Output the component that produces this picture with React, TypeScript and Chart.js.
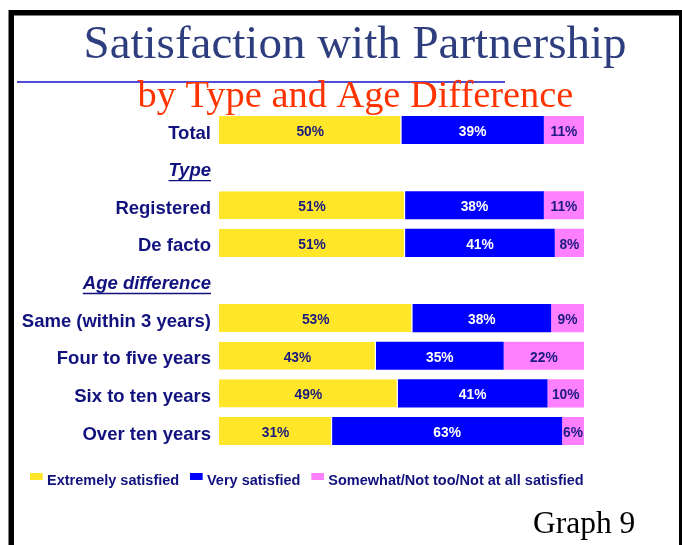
import React, { useEffect, useRef } from "react";
import { Chart, registerables } from "chart.js";

Chart.register(...registerables);

const categories = [
  "Total",
  "Type",
  "Registered",
  "De facto",
  "Age difference",
  "Same (within 3 years)",
  "Four to five years",
  "Six to ten years",
  "Over ten years",
];
const headerRows = [1, 4];
const extremely = [50, null, 51, 51, null, 53, 43, 49, 31];
const very = [39, null, 38, 41, null, 38, 35, 41, 63];
const somewhat = [11, null, 11, 8, null, 9, 22, 10, 6];
const seriesNames = ["Extremely satisfied", "Very satisfied", "Somewhat/Not too/Not at all satisfied"];
const seriesColors = ["#FFE629", "#0000FF", "#FF80FF"];
const labelColors = ["#1a1a80", "#ffffff", "#1a1a80"];
const titleText = "Satisfaction with Partnership";
const subtitleText = "by Type and Age Difference";
const footerText = "Graph 9";

const SANS = "'Liberation Sans', Arial, Helvetica, sans-serif";
const SERIF = "'Liberation Serif', 'Times New Roman', serif";
const NAVY = "#12127e";

const decorPlugin = {
  id: "decor",
  beforeDraw(chart: any) {
    const ctx = chart.ctx;
    ctx.save();
    ctx.fillStyle = "#ffffff";
    ctx.fillRect(0, 0, chart.width, chart.height);
    // frame
    ctx.fillStyle = "#000000";
    ctx.fillRect(9, 10, 673, 5.5);
    ctx.fillRect(8.5, 10, 5.5, 535);
    ctx.fillRect(679, 10, 3, 535);
    // thin blue rule
    ctx.strokeStyle = "#1414c8";
    ctx.lineWidth = 1.4;
    ctx.beginPath();
    ctx.moveTo(17, 82);
    ctx.lineTo(505, 82);
    ctx.stroke();
    // titles
    ctx.textAlign = "center";
    ctx.textBaseline = "alphabetic";
    ctx.fillStyle = "#2d3d7d";
    ctx.font = `47px ${SERIF}`;
    ctx.fillText(titleText, 355, 58);
    ctx.fillStyle = "#ff3300";
    ctx.font = `38.4px ${SERIF}`;
    ctx.fillText(subtitleText, 355.5, 106.5);
    // footer
    ctx.textAlign = "left";
    ctx.fillStyle = "#000000";
    ctx.font = `31.5px ${SERIF}`;
    ctx.fillText(footerText, 533, 532.5);
    ctx.restore();
  },
  afterDraw(chart: any) {
    const ctx = chart.ctx;
    const yScale = chart.scales.y;
    ctx.save();
    // underline header labels
    ctx.font = `italic bold 18.5px ${SANS}`;
    ctx.strokeStyle = NAVY;
    ctx.lineWidth = 1.4;
    const right = yScale.right - 8;
    headerRows.forEach((i) => {
      const y = yScale.getPixelForTick(i) + 13;
      const w = ctx.measureText(categories[i]).width;
      ctx.beginPath();
      ctx.moveTo(right - w, y);
      ctx.lineTo(right, y);
      ctx.stroke();
    });
    // value labels
    ctx.font = `bold 13.8px ${SANS}`;
    ctx.textAlign = "center";
    ctx.textBaseline = "middle";
    chart.data.datasets.forEach((ds: any, di: number) => {
      const meta = chart.getDatasetMeta(di);
      ctx.fillStyle = labelColors[di];
      meta.data.forEach((el: any, i: number) => {
        const v = ds.data[i];
        if (v === null || v === undefined) return;
        const p = el.getCenterPoint();
        ctx.fillText(`${v}%`, p.x, p.y + 2);
      });
    });
    // legend
    ctx.font = `bold 14.5px ${SANS}`;
    ctx.textAlign = "left";
    ctx.textBaseline = "alphabetic";
    let x = 30;
    seriesNames.forEach((name, i) => {
      ctx.fillStyle = seriesColors[i];
      ctx.fillRect(x, 473, 12.7, 7);
      ctx.fillStyle = NAVY;
      const tx = x + 17;
      ctx.fillText(name, tx, 485);
      x = tx + ctx.measureText(name).width + 10.8;
    });
    ctx.restore();
  },
};

export default function App() {
  const ref = useRef<HTMLCanvasElement | null>(null);
  useEffect(() => {
    if (!ref.current) return;
    const seriesData = [extremely, very, somewhat];
    const chart = new Chart(ref.current, {
      type: "bar",
      data: {
        labels: categories,
        datasets: seriesData.map((d, i) => ({
          label: seriesNames[i],
          data: d,
          backgroundColor: seriesColors[i],
          borderColor: "#ffffff",
          borderWidth: i === 0 ? { right: 1.2, left: 0, top: 0, bottom: 0 } : 0,
          borderSkipped: false,
          categoryPercentage: 1,
          barPercentage: 0.745,
        })),
      },
      options: {
        indexAxis: "y",
        animation: false,
        responsive: false,
        layout: { padding: { top: 111.2, bottom: 95.2, left: 0, right: 98 } },
        plugins: {
          legend: { display: false },
          title: { display: false },
          tooltip: { enabled: false },
        },
        scales: {
          x: {
            stacked: true,
            min: 0,
            max: 100,
            display: false,
          },
          y: {
            stacked: true,
            grid: { display: false, drawTicks: false },
            border: { display: false },
            afterFit(scale: any) {
              scale.width = 219;
            },
            ticks: {
              padding: 8,
              labelOffset: 3.5,
              color: NAVY,
              autoSkip: false,
              font: (c: any) => ({
                family: SANS,
                size: 18.5,
                weight: "bold",
                style: headerRows.includes(c.index) ? "italic" : "normal",
              }),
            },
          },
        },
      },
      plugins: [decorPlugin],
    } as any);
    return () => chart.destroy();
  }, []);
  return (
    <div style={{ position: "absolute", left: 0, top: 0, width: 682, height: 545, background: "#fff" }}>
      <canvas ref={ref} width={682} height={545} />
    </div>
  );
}
